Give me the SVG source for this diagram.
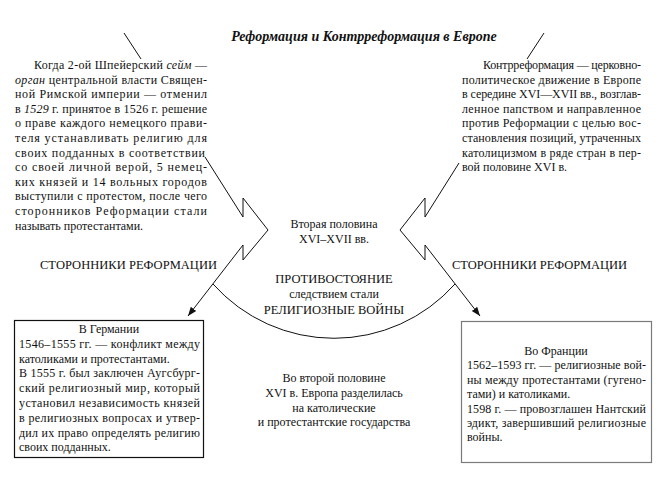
<svg xmlns="http://www.w3.org/2000/svg" width="663" height="488" viewBox="0 0 663 488">
<defs>
<marker id="arr" viewBox="0 0 10 10" refX="10" refY="5" markerWidth="9" markerHeight="9" orient="auto" markerUnits="userSpaceOnUse"><path d="M0,1.2 L10,5 L0,8.8 Z" fill="#111"/></marker>
</defs>
<style>
text{font-family:"Liberation Serif","DejaVu Serif",serif;fill:#111;font-size:12px}
.t{font-size:14px;font-weight:bold;font-style:italic}
.c{text-anchor:middle}
.i{font-style:italic}
.cap{font-size:12.5px}
.ln{fill:none;stroke:#111;stroke-width:1}
.box{fill:#fff;stroke-width:1.2}
</style>
<rect width="663" height="488" fill="#fff"/>

<g id="connectors">
<path class="ln" d="M124,33 L141,59"/>
<path class="ln" d="M205,157 L243,217 L243,198 L268,230 L243,260 L243,245 L188,316" marker-end="url(#arr)"/>
<path class="ln" d="M544,33 L527,59"/>
<path class="ln" d="M459,163 L425,217 L425,198 L400,230 L425,260 L425,245 L480,316" marker-end="url(#arr)"/>
<path class="ln" d="M213,284 A162,162 0 0 0 455,284"/>
</g>

<g id="title">
<text class="t c" x="364" y="41">Реформация и Контрреформация в Европе</text>
</g>

<g id="reformation-text">
<text x="34" y="69" textLength="173" lengthAdjust="spacing">Когда 2-ой Шпейерский <tspan class="i">сейм</tspan> —</text>
<text x="15" y="83.6" textLength="192" lengthAdjust="spacing"><tspan class="i">орган</tspan> центральной власти Священ-</text>
<text x="15" y="98.2" textLength="192" lengthAdjust="spacing">ной Римской империи — отменил</text>
<text x="15" y="112.8" textLength="192" lengthAdjust="spacing">в <tspan class="i">1529</tspan> г. принятое в 1526 г. решение</text>
<text x="15" y="127.4" textLength="192" lengthAdjust="spacing">о праве каждого немецкого прави-</text>
<text x="15" y="142" textLength="192" lengthAdjust="spacing">теля устанавливать религию для</text>
<text x="15" y="156.6" textLength="190" lengthAdjust="spacing">своих подданных в соответствии</text>
<text x="15" y="171.2" textLength="192" lengthAdjust="spacing">со своей личной верой, 5 немец-</text>
<text x="15" y="185.8" textLength="192" lengthAdjust="spacing">ких князей и 14 вольных городов</text>
<text x="15" y="200.4" textLength="192" lengthAdjust="spacing">выступили с протестом, после чего</text>
<text x="15" y="215" textLength="192" lengthAdjust="spacing">сторонников Реформации стали</text>
<text x="15" y="229.6">называть протестантами.</text>
</g>

<g id="counter-text">
<text x="483" y="69" textLength="158" lengthAdjust="spacing">Контрреформация — церковно-</text>
<text x="462" y="83.6" textLength="179" lengthAdjust="spacing">политическое движение в Европе</text>
<text x="462" y="98.2" textLength="179" lengthAdjust="spacing">в середине XVI—XVII вв., возглав-</text>
<text x="462" y="112.8" textLength="179" lengthAdjust="spacing">ленное папством и направленное</text>
<text x="462" y="127.4" textLength="179" lengthAdjust="spacing">против Реформации с целью вос-</text>
<text x="462" y="142" textLength="179" lengthAdjust="spacing">становления позиций, утраченных</text>
<text x="462" y="156.6" textLength="179" lengthAdjust="spacing">католицизмом в ряде стран в пер-</text>
<text x="462" y="171.2">вой половине XVI в.</text>
</g>

<g id="period">
<text class="c" x="334" y="228">Вторая половина</text>
<text class="c" x="334" y="243">XVI–XVII вв.</text>
</g>

<g id="supporters-left">
<text class="cap" x="40" y="269" textLength="177" lengthAdjust="spacing">СТОРОННИКИ РЕФОРМАЦИИ</text>
</g>
<g id="supporters-right">
<text class="cap" x="452" y="269" textLength="175" lengthAdjust="spacing">СТОРОННИКИ РЕФОРМАЦИИ</text>
</g>

<g id="conflict">
<text class="cap c" x="334" y="283">ПРОТИВОСТОЯНИЕ</text>
<text class="c" x="334" y="298">следствием стали</text>
<text class="cap c" x="334" y="314">РЕЛИГИОЗНЫЕ ВОЙНЫ</text>
</g>

<g id="germany">
<rect class="box" x="14.5" y="320.5" width="189" height="137" stroke="#111"/>
<text class="c" x="109" y="333">В Германии</text>
<text x="19" y="347.8" textLength="181" lengthAdjust="spacing">1546–1555 гг. — конфликт между</text>
<text x="19" y="362.6">католиками и протестантами.</text>
<text x="19" y="377.4" textLength="181" lengthAdjust="spacing">В 1555 г. был заключен  Аугсбург-</text>
<text x="19" y="392.2" textLength="181" lengthAdjust="spacing">ский религиозный  мир, который</text>
<text x="19" y="407" textLength="181" lengthAdjust="spacing">установил  независимость князей</text>
<text x="19" y="421.8" textLength="181" lengthAdjust="spacing">в религиозных вопросах и утвер-</text>
<text x="19" y="436.6" textLength="181" lengthAdjust="spacing">дил их право определять религию</text>
<text x="19" y="451.4">своих подданных.</text>
</g>

<g id="france">
<rect class="box" x="461.5" y="321.5" width="190" height="141" stroke="#7a7a7a"/>
<text class="c" x="556" y="355">Во Франции</text>
<text x="467" y="369.4" textLength="179" lengthAdjust="spacing">1562–1593 гг. — религиозные вой-</text>
<text x="467" y="383.8" textLength="179" lengthAdjust="spacing">ны между протестантами (гугено-</text>
<text x="467" y="398.2">тами) и католиками.</text>
<text x="467" y="412.6" textLength="179" lengthAdjust="spacing">1598 г. — провозглашен Нантский</text>
<text x="467" y="427" textLength="179" lengthAdjust="spacing">эдикт, завершивший религиозные</text>
<text x="467" y="441.4">войны.</text>
</g>

<g id="division">
<text class="c" x="334" y="382">Во второй половине</text>
<text class="c" x="334" y="397">XVI в. Европа разделилась</text>
<text class="c" x="334" y="412">на католические</text>
<text class="c" x="334" y="426">и протестантские государства</text>
</g>
</svg>
